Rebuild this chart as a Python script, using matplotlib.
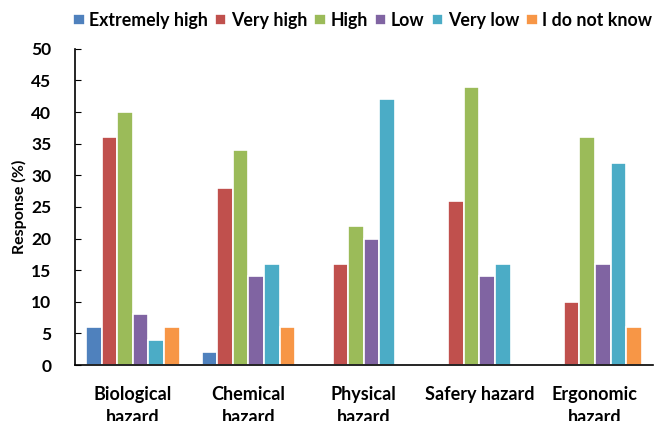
import numpy as np
import matplotlib.pyplot as plt

plt.rcParams['font.family'] = ['Lato', 'DejaVu Sans']
plt.rcParams['font.weight'] = 'bold'

categories = ['Biological\nhazard', 'Chemical\nhazard', 'Physical\nhazard',
              'Safery hazard', 'Ergonomic\nhazard']
series = ['Extremely high', 'Very high', 'High', 'Low', 'Very low', 'I do not know']
extremely_high = [6, 2, 0, 0, 0]
very_high = [36, 28, 16, 26, 10]
high = [40, 34, 22, 44, 36]
low = [8, 14, 20, 14, 16]
very_low = [4, 16, 42, 16, 32]
dont_know = [6, 6, 0, 0, 6]
values = [extremely_high, very_high, high, low, very_low, dont_know]
colors = ['#4F81BD', '#C0504D', '#9BBB59', '#8064A2', '#4BACC6', '#F79646']

fig = plt.figure(figsize=(6.64, 4.21), dpi=100)
ax = fig.add_axes([0.113, 0.133, 0.870, 0.751])

x = np.arange(len(categories))
slot = 0.81 / len(series)
for i, (name, vals) in enumerate(zip(series, values)):
    ax.bar(x + (i - 2.5) * slot, vals, width=slot, color=colors[i],
           edgecolor='white', linewidth=1.2, label=name)

ax.set_xlim(-0.5, 4.5)
ax.set_ylim(0, 50)
ax.set_yticks(range(0, 51, 5))
ax.tick_params(axis='y', direction='in', length=4, labelsize=12.5, pad=17)
ax.tick_params(axis='x', length=0, labelsize=13, pad=15)
ax.set_xticks(x)
ax.set_xticklabels(categories, linespacing=1.45)
ax.set_ylabel('Response (%)', fontsize=11.5, fontweight='bold', labelpad=3)
for side in ['top', 'right']:
    ax.spines[side].set_visible(False)
ax.spines['left'].set_linewidth(1.2)
ax.spines['bottom'].set_linewidth(1.2)

fig.legend(ncol=6, loc='center', bbox_to_anchor=(0.546, 0.952), frameon=False,
           fontsize=12.8, handlelength=0.65, handleheight=0.65, handletextpad=0.25,
           columnspacing=0.4, borderaxespad=0, borderpad=0)

fig.savefig('out.png', dpi=100)
